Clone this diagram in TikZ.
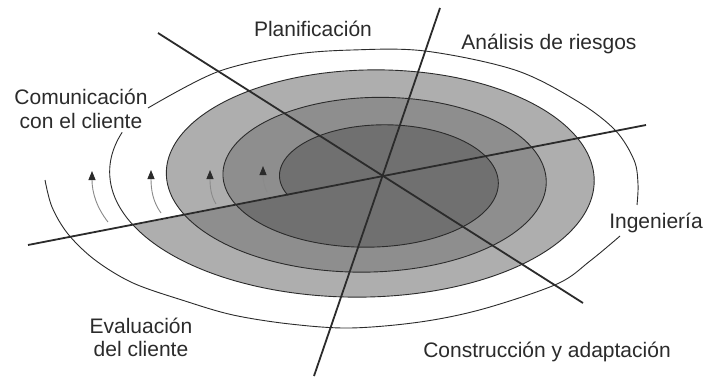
\documentclass[tikz,border=0pt]{standalone}
\usepackage{fontspec}
\setmainfont{Liberation Sans}
\usetikzlibrary{arrows.meta}
\definecolor{ink}{HTML}{2B2B2B}
\definecolor{bandA}{HTML}{AEAEAE}
\definecolor{bandB}{HTML}{8E8E8E}
\definecolor{bandC}{HTML}{707070}
\definecolor{arrowline}{HTML}{8A8A8A}
\begin{document}
\begin{tikzpicture}[x=1pt,y=-1pt,
  declare function={
    su(\t)=1.72+(\t-158)/360;
    sx(\t)=384.75-4.35*su(\t)+(3.85+52.35*su(\t))*cos(\t);
    sy(\t)=182.3-1.25*su(\t)+(1.5+26.25*su(\t))*sin(\t);},
  axisline/.style={draw=ink, line width=1.8pt},
  bandedge/.style={draw=ink, line width=0.9pt},
  thincurve/.style={draw=ink, line width=0.9pt},
  loopArrow/.style={draw=arrowline, line width=0.9pt,
    -{Triangle[length=9pt,width=7pt,color=ink]}},
  label/.style={text=ink, inner sep=0pt, anchor=base,
    font=\fontsize{21}{23.5}\selectfont}
]
\fill[white] (0,0) rectangle (704,377);
\useasboundingbox (0,0) rectangle (704,377);

% spiral bands (outer to inner)
\fill[bandA] plot[domain=877.6:1237, samples=180, variable=\q] ({sx(\q)},{sy(\q)}) -- cycle;
\fill[bandB] plot[domain=518.7:877.6, samples=180, variable=\q] ({sx(\q)},{sy(\q)}) -- cycle;
\fill[bandC] plot[domain=161:518.7, samples=180, variable=\q] ({sx(\q)},{sy(\q)}) -- cycle;

% spiral edge line
\draw[bandedge] plot[domain=161:1280, samples=560, variable=\q, smooth] ({sx(\q)},{sy(\q)});

% outer thin curves
\draw[thincurve] plot[smooth, tension=0.55] coordinates {(148,108) (217,72) (290,55) (352,50) (425,51) (515,70) (577,101) (615,130) (634,160) (638,184) (637,205)};
\draw[thincurve] plot[smooth, tension=0.55] coordinates {(620,236) (590,261) (557,284) (483,309) (420,322) (350,328) (290,324) (233,315) (185,301) (133,283) (95,260) (68,234) (52,207) (45,180)};

% axes
\coordinate (l1a) at (158,33);  \coordinate (l1b) at (583,303);
\coordinate (l2a) at (440,8);   \coordinate (l2b) at (314,376);
\coordinate (l3a) at (28,245);  \coordinate (l3b) at (646,125);
\draw[axisline] (l1a) -- (l1b);
\draw[axisline] (l2a) -- (l2b);
\draw[axisline] (l3a) -- (l3b);

% small arrows
\coordinate (t1) at (108,222); \coordinate (h1) at (92,171);
\coordinate (t2) at (161,213); \coordinate (h2) at (151,170);
\coordinate (t3) at (216,204); \coordinate (h3) at (210,170);
\coordinate (t4) at (267,192); \coordinate (h4) at (263,166);
\draw[loopArrow] (t1) .. controls (97,208) and (92,193) .. (h1);
\draw[loopArrow] (t2) .. controls (153,202) and (151,190) .. (h2);
\draw[loopArrow] (t3) .. controls (211,196) and (210,187) .. (h3);
\draw[loopArrow] (t4) .. controls (264,186) and (263,180) .. (h4);

% labels
\node[label] (plan) at (313,37) {Planificación};
\node[label] (riesgo) at (549,50) {Análisis de riesgos};
\node[label] (comun) at (81,105) {\begin{tabular}[t]{@{}c@{}}Comunicación\\con el cliente\end{tabular}};
\node[label] (ing) at (656,228) {Ingeniería};
\node[label] (eval) at (141,333) {\begin{tabular}[t]{@{}c@{}}Evaluación\\del cliente\end{tabular}};
\node[label] (constr) at (547,357) {Construcción y adaptación};
\end{tikzpicture}
\end{document}
